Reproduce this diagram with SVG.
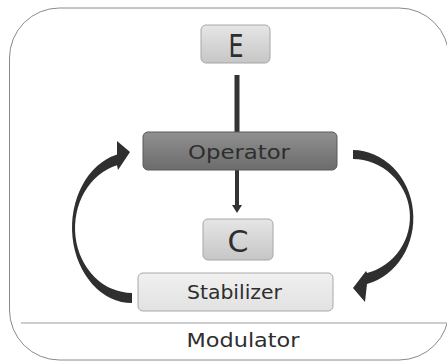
<svg xmlns="http://www.w3.org/2000/svg" width="447" height="361" viewBox="0 0 447 361">
  <defs>
    <linearGradient id="gLight" x1="0" y1="0" x2="0" y2="1">
      <stop offset="0" stop-color="#e6e6e6"/>
      <stop offset="1" stop-color="#c6c6c6"/>
    </linearGradient>
    <linearGradient id="gDark" x1="0" y1="0" x2="0" y2="1">
      <stop offset="0" stop-color="#909090"/>
      <stop offset="1" stop-color="#6c6c6c"/>
    </linearGradient>
    <linearGradient id="gPale" x1="0" y1="0" x2="0" y2="1">
      <stop offset="0" stop-color="#f0f0f0"/>
      <stop offset="1" stop-color="#e2e2e2"/>
    </linearGradient>
  </defs>
  <style>
    text { font-family: "DejaVu Sans", "Liberation Sans", sans-serif; fill: #2e2e2e; text-anchor: middle; }
    .box { stroke-width: 1; }
    .conn { stroke: #333; fill: none; }
    .arc { fill: #2f2f2f; }
  </style>

  <!-- outer container -->
  <g id="modulator">
    <rect x="9.5" y="8" width="439.5" height="352" rx="50" ry="50" fill="#ffffff" stroke="#8a8a8a" stroke-width="1"/>
    <line x1="21" y1="323" x2="447" y2="323" stroke="#bdbdbd" stroke-width="1.5"/>
    <text x="243" y="347" font-size="20" textLength="113" lengthAdjust="spacingAndGlyphs">Modulator</text>
  </g>

  <!-- connectors -->
  <g id="connectors">
    <line class="conn" x1="237" y1="75" x2="237" y2="132" stroke-width="5"/>
    <line class="conn" x1="237" y1="170" x2="237" y2="206" stroke-width="4"/>
    <polygon points="232,205 242,205 237,213" fill="#333"/>
    <!-- right curved arrow: Operator to Stabilizer -->
    <path class="arc" d="M353,150 A61,68 0 0 1 367,284 L365,302 L353,288 L366,271 L367,273 A58,58 0 0 0 353,159 Z"/>
    <!-- left curved arrow: Stabilizer to Operator -->
    <path class="arc" d="M132,303 A60,75.5 0 0 1 117,154.4 L117,141 L130,152 L118,170 L117,165.3 A57,65 0 0 0 132,293 Z"/>
  </g>

  <g id="E">
    <rect class="box" x="201" y="25" width="69" height="38" rx="5" fill="url(#gLight)" stroke="#a6a6a6"/>
    <text x="236" y="57" font-size="32" textLength="15" lengthAdjust="spacingAndGlyphs">E</text>
  </g>

  <g id="Operator">
    <rect class="box" x="143" y="132" width="194" height="38" rx="5" fill="url(#gDark)" stroke="#5a5a5a"/>
    <text x="239" y="158.5" font-size="20" textLength="102" lengthAdjust="spacingAndGlyphs">Operator</text>
  </g>

  <g id="C">
    <rect class="box" x="203" y="219" width="70" height="41" rx="5" fill="url(#gLight)" stroke="#a6a6a6"/>
    <text x="238" y="252" font-size="30">C</text>
  </g>

  <g id="Stabilizer">
    <rect class="box" x="138" y="273" width="195" height="38" rx="5" fill="url(#gPale)" stroke="#a8a8a8"/>
    <text x="234.5" y="299.3" font-size="20" textLength="95" lengthAdjust="spacingAndGlyphs">Stabilizer</text>
  </g>
</svg>
